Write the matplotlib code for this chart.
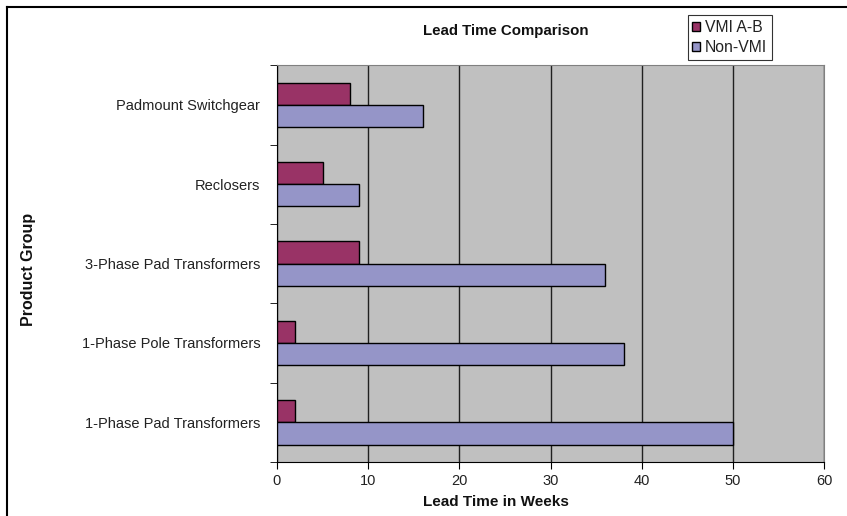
import matplotlib.pyplot as plt
import numpy as np
from matplotlib.lines import Line2D

plt.rcParams['font.family'] = ['Liberation Sans', 'DejaVu Sans']

categories = ['1-Phase Pad Transformers', '1-Phase Pole Transformers',
              '3-Phase Pad Transformers', 'Reclosers', 'Padmount Switchgear']
vmi = [2, 2, 9, 5, 8]
non_vmi = [50, 38, 36, 9, 16]
x_ticks = [0, 10, 20, 30, 40, 50, 60]

fig = plt.figure(figsize=(8.47, 5.16), dpi=100)
ax = fig.add_axes([0.327, 0.1047, 0.646, 0.769])
ax.set_facecolor('#C0C0C0')

y = np.arange(len(categories))
h = 0.28
ax.barh(y + h / 2, vmi, height=h, color='#993366', edgecolor='black',
        linewidth=1, label='VMI A-B', zorder=3)
ax.barh(y - h / 2, non_vmi, height=h, color='#9595C8', edgecolor='black',
        linewidth=1, label='Non-VMI', zorder=3)

ax.set_xlim(0, 60)
ax.set_ylim(-0.5, len(categories) - 0.5)
ax.set_xticks(x_ticks)
ax.set_yticks(y)
ax.set_yticklabels(categories)
ax.set_yticks(np.arange(-0.5, len(categories), 1), minor=True)
ax.tick_params(axis='y', which='major', length=0, pad=12, labelsize=10.5,
               labelcolor='#222222')
ax.tick_params(axis='y', which='minor', length=5, direction='out')
ax.tick_params(axis='x', length=5, direction='out', labelsize=10.5,
               labelcolor='#222222')
ax.grid(axis='x', color='#202020', linewidth=1, zorder=1)

for s in ['top', 'right']:
    ax.spines[s].set_color('#808080')
for s in ['left', 'bottom']:
    ax.spines[s].set_color('black')

fig.text(0.597, 0.94, 'Lead Time Comparison', ha='center', va='center',
         fontsize=10.8, fontweight='bold', color='#111111')
fig.text(0.585, 0.027, 'Lead Time in Weeks', ha='center', va='center',
         fontsize=11, fontweight='bold', color='#111111')
fig.text(0.034, 0.477, 'Product Group', rotation=90, ha='center', va='center',
         fontsize=11.5, fontweight='bold', color='#111111')

leg = ax.legend(loc='upper left', bbox_to_anchor=(0.812, 0.971),
                bbox_transform=fig.transFigure, frameon=True, fancybox=False,
                edgecolor='black', fontsize=11.3, handlelength=0.5,
                handleheight=0.5, handletextpad=0.3, borderpad=0.3,
                labelspacing=0.35, borderaxespad=0)
leg.get_frame().set_linewidth(0.8)
for t in leg.get_texts():
    t.set_color('#222222')

# frame around the whole chart
fig.add_artist(Line2D([0.008, 0.008], [0, 0.987], color='black', linewidth=1.5,
                      transform=fig.transFigure))
fig.add_artist(Line2D([0.008, 1], [0.987, 0.987], color='black', linewidth=1.5,
                      transform=fig.transFigure))

fig.savefig('out.png', dpi=100)
